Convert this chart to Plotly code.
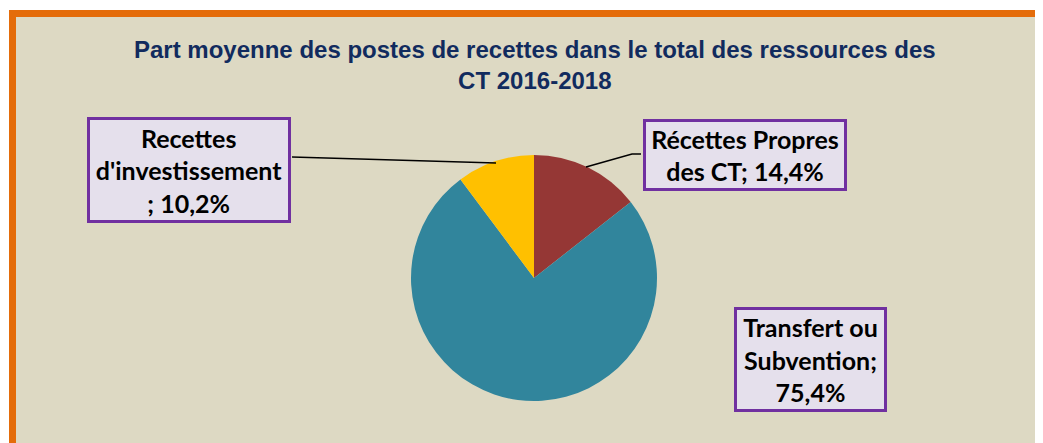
import plotly.graph_objects as go

OFF = 8  # page body margin offset
W, H = 1043 - OFF, 443 - OFF

categories = ["Récettes Propres des CT", "Transfert ou Subvention", "Recettes d'investissement"]
values = [14.4, 75.4, 10.2]
label_texts = ["Récettes Propres<br>des CT; 14,4%", "Transfert ou<br>Subvention;<br>75,4%", "Recettes<br>d'investissement<br>; 10,2%"]
colors = ["#953735", "#31859c", "#ffc000"]

def px(x):
    return (x - OFF) / W

def py(y):
    return 1 - (y - OFF) / H

fig = go.Figure()
fig.add_trace(go.Pie(
    labels=categories, values=values, sort=False, direction="clockwise", rotation=0,
    marker=dict(colors=colors, line=dict(width=0)),
    textinfo="none", hoverinfo="label+percent", showlegend=False,
    domain=dict(x=[px(411), px(657)], y=[py(401), py(155)]),
))

shapes = [
    dict(type="rect", xref="paper", yref="paper", x0=px(12.5), x1=1, y0=0, y1=py(13.5),
         line=dict(width=0), fillcolor="#ddd9c3", layer="below"),
    dict(type="path", xref="paper", yref="paper",
         path=f"M {px(12.5)} 0 L {px(12.5)} {py(13.5)} L 1 {py(13.5)}",
         line=dict(color="#e46c0a", width=7), layer="below"),
    dict(type="line", xref="paper", yref="paper", x0=px(292), y0=py(157), x1=px(496), y1=py(163),
         line=dict(color="black", width=1.5)),
    dict(type="path", xref="paper", yref="paper",
         path=f"M {px(586)} {py(167)} L {px(632)} {py(154)} L {px(641)} {py(154)}",
         line=dict(color="black", width=1.5)),
]

annotations = [
    dict(text="<b>Part moyenne des postes de recettes dans le total des ressources des<br>CT 2016-2018</b>",
         xref="paper", yref="paper", x=px(535), y=py(65), xanchor="center", yanchor="middle",
         showarrow=False, font=dict(family="Liberation Sans Narrow, Arial Narrow, Liberation Sans", size=24, color="#112b5e"),
         align="center"),
]
# label boxes: (center x, center y, width, height)
boxes = [(744.5, 155, 206, 74), (810.5, 359.5, 155, 107), (189, 170, 206, 108)]
for txt, (cx, cy, bw, bh) in zip(label_texts, boxes):
    annotations.append(dict(
        text=f"<b>{txt}</b>", xref="paper", yref="paper", x=px(cx), y=py(cy),
        xanchor="center", yanchor="middle", showarrow=False, align="center",
        font=dict(family="Lato, Open Sans", size=25, color="black", weight=900),
        bgcolor="#e5e0ec", bordercolor="#7030a0", borderwidth=3,
        width=bw - 10, height=bh - 10,
    ))

fig.update_layout(
    width=W, height=H, margin=dict(l=0, r=0, t=0, b=0),
    paper_bgcolor="white", plot_bgcolor="white",
    shapes=shapes, annotations=annotations,
)
fig.write_html("out.html", config={"displayModeBar": False})
